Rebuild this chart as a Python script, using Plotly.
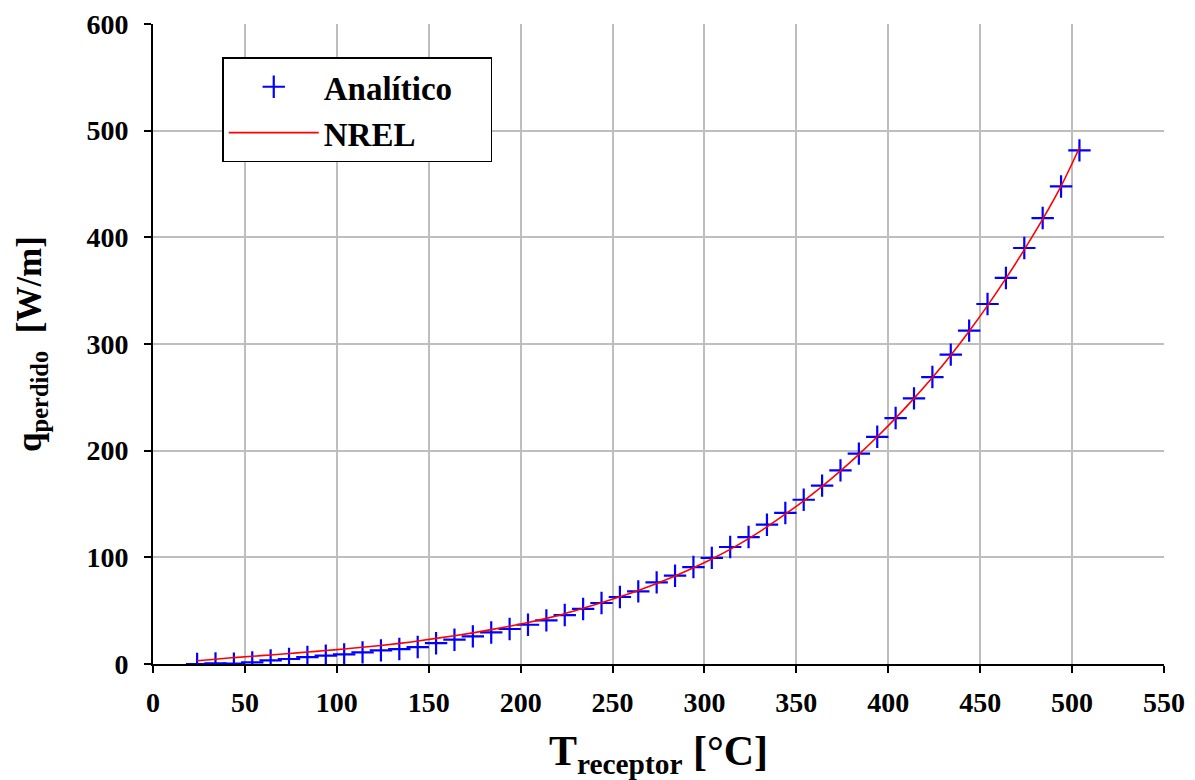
import plotly.graph_objects as go

# Receiver temperature [°C] at which the analytical heat loss was evaluated
t_analitico = [24, 34, 44, 54, 64, 74, 84, 94, 104, 114, 124, 134, 144, 154,
               164, 174, 184, 194, 204, 214, 224, 234, 244, 254, 264, 274,
               284, 294, 304, 314, 324, 334, 344, 354, 364, 374, 384, 394,
               404, 414, 424, 434, 444, 454, 464, 474, 484, 494, 504]

# Analytical heat loss per unit length [W/m]
q_analitico = [0.0, 0.5, 0.3, 1.5, 3.4, 4.7, 6.5, 7.8, 9.0, 10.9, 12.8, 14.0,
               15.9, 19.5, 22.8, 25.9, 29.6, 32.8, 36.8, 40.9, 45.9, 51.6,
               57.2, 62.8, 68.1, 76.5, 82.8, 90.9, 99.5, 109.7, 119.0, 130.6,
               141.6, 154.0, 167.2, 181.5, 197.2, 213.0, 230.6, 249.0, 269.0,
               290.0, 312.5, 337.5, 361.9, 390.0, 418.1, 447.7, 481.5]

# NREL reference heat loss [W/m]
t_nrel = t_analitico
q_nrel = [3.0, 4.5, 6.0, 7.2, 8.5, 9.8, 11.2, 12.6, 14.1, 15.7, 17.4, 19.3,
          21.5, 24.0, 26.5, 29.2, 32.2, 35.4, 38.9, 42.8, 47.2, 52.2, 57.5,
          63.0, 69.0, 75.5, 82.5, 90.2, 98.5, 107.5, 117.5, 128.5, 140.5,
          153.0, 166.5, 181.0, 196.5, 213.0, 230.5, 249.0, 268.5, 289.5,
          312.0, 336.0, 361.5, 388.5, 417.0, 448.0, 484.0]

x_ticks = [0, 50, 100, 150, 200, 250, 300, 350, 400, 450, 500, 550]
y_ticks = [0, 100, 200, 300, 400, 500, 600]

SERIF = "Liberation Serif, Times New Roman, serif"
GRID = "#BEBEBE"
PAD = "\u00a0" * 4  # right-hand padding inside the legend box

fig = go.Figure()

fig.add_trace(go.Scatter(
    x=t_analitico, y=q_analitico, mode="markers", name="Analítico" + PAD,
    legendgroup="a",
    marker=dict(symbol="cross-thin", size=16, color="#0000FF",
                line=dict(color="#0000FF", width=2.2)),
))

fig.add_trace(go.Scatter(
    x=t_nrel, y=q_nrel, mode="lines", name="NREL",
    legendgroup="b",
    line=dict(color="#FF0000", width=1.6, shape="spline"),
))

axis_common = dict(
    showgrid=True, gridcolor=GRID, gridwidth=1.5,
    showline=True, linecolor="black", linewidth=2,
    ticks="outside", ticklen=7, tickwidth=1.5, tickcolor="black",
    zeroline=False, automargin=False,
    tickfont=dict(family=SERIF, size=28, color="black", weight="bold"),
)

fig.update_xaxes(
    range=[0, 550], tickvals=x_ticks, ticktext=[str(v) for v in x_ticks],
    ticklabelstandoff=5,
    title=dict(text="T<sub>receptor</sub> [°C]", standoff=20,
               font=dict(family=SERIF, size=42, color="black", weight="bold")),
    **axis_common,
)
fig.update_yaxes(
    range=[0, 600], tickvals=y_ticks, ticktext=[str(v) for v in y_ticks],
    ticklabelstandoff=10,
    title=dict(text="q<sub>perdido</sub>  [W/m]", standoff=34,
               font=dict(family=SERIF, size=35, color="black", weight="bold")),
    **axis_common,
)

fig.update_layout(
    width=1195, height=780,
    margin=dict(l=153, r=31, t=24, b=116),
    paper_bgcolor="white", plot_bgcolor="white",
    showlegend=True,
    legend=dict(
        x=0.0685, y=0.948, xanchor="left", yanchor="top",
        bgcolor="white", bordercolor="black", borderwidth=1.5,
        font=dict(family=SERIF, size=33, color="black", weight="bold"),
        tracegroupgap=0, itemwidth=90,
    ),
)

fig.write_html("out.html")
